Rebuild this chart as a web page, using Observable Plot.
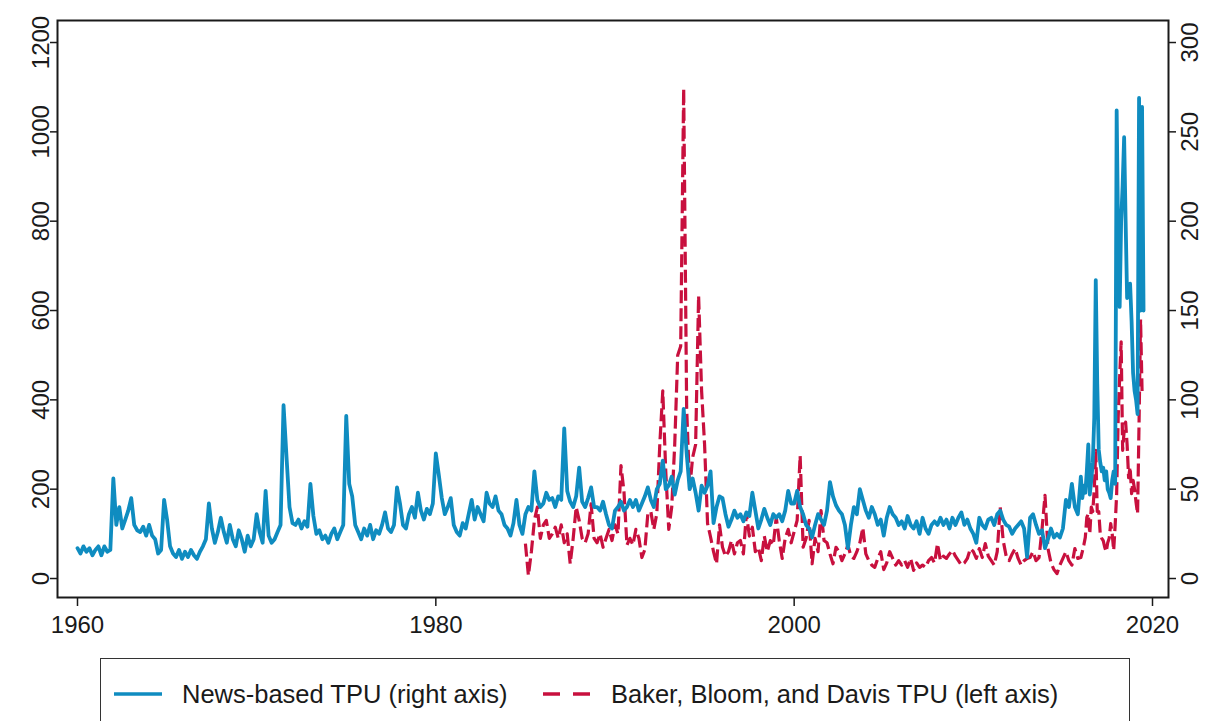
<!DOCTYPE html>
<html>
<head>
<meta charset="utf-8">
<script src="https://cdn.jsdelivr.net/npm/d3@7"></script>
<script src="https://cdn.jsdelivr.net/npm/@observablehq/plot@0.6"></script>
<style>
  html, body { margin: 0; padding: 0; background: #fff; }
  body { width: 1212px; height: 721px; overflow: hidden; position: relative; font-family: "Liberation Sans", Arial, sans-serif; color: #1a1a1a; }
  #chart { position: absolute; left: 0; top: 0; }
  #legend { position: absolute; left: 100px; top: 658px; width: 1030px; height: 80px; box-sizing: border-box; border: 1.5px solid #333; background: #fff; }
  #legend .item { position: absolute; top: 20px; height: 30px; display: flex; align-items: center; font-size: 25.5px; white-space: nowrap; }
  #legend svg { margin-right: 20px; }
</style>
</head>
<body>
<div id="chart"></div>
<div id="legend"></div>
<script>
// ---------------- data ----------------
// News-based TPU (right axis), six readings per year, 1960.0 – 2015.83
const newsTPUBimonthly = [
  17, 14, 18, 15, 17, 13,   // 1960
  16, 18, 13, 18, 15, 16,   // 1961
  56, 30, 40, 28, 33, 38,   // 1962
  45, 30, 27, 26, 29, 24,   // 1963
  30, 24, 22, 14, 16, 44,   // 1964
  33, 18, 14, 12, 16, 11,   // 1965
  15, 12, 16, 13, 11, 15,   // 1966
  18, 22, 42, 28, 20, 26,   // 1967
  34, 26, 20, 30, 22, 18,   // 1968
  27, 22, 15, 24, 18, 22,   // 1969
  36, 26, 20, 49, 24, 20,   // 1970
  22, 26, 30, 97, 68, 40,   // 1971
  31, 30, 33, 28, 32, 29,   // 1972
  53, 35, 25, 27, 22, 24,   // 1973
  20, 25, 28, 22, 26, 30,   // 1974
  91, 53, 46, 30, 26, 22,   // 1975
  28, 24, 30, 22, 27, 25,   // 1976
  30, 37, 28, 26, 30, 51,   // 1977
  42, 30, 28, 36, 40, 34,   // 1978
  48, 38, 33, 39, 36, 42,   // 1979
  70, 58, 45, 36, 40, 45,   // 1980
  30, 26, 24, 31, 28, 36,   // 1981
  44, 33, 40, 36, 32, 48,   // 1982
  42, 40, 46, 38, 36, 30,   // 1983
  28, 24, 31, 44, 30, 25,   // 1984
  36, 40, 38, 60, 44, 40,   // 1985
  42, 48, 44, 45, 40, 46,   // 1986
  44, 84, 49, 43, 40, 46,   // 1987
  62, 43, 40, 45, 51, 40,   // 1988
  40, 38, 43, 36, 30, 28,   // 1989
  38, 40, 43, 38, 40, 44,   // 1990
  40, 44, 38, 42, 46, 51,   // 1991
  44, 40, 50, 53, 66, 50,   // 1992
  52, 57, 47, 55, 60, 95,   // 1993
  70, 50, 56, 48, 38, 52,   // 1994
  48, 52, 60, 31, 40, 46,   // 1995
  45, 36, 29, 33, 38, 34,   // 1996
  36, 32, 37, 35, 48, 38,   // 1997
  28, 33, 39, 34, 30, 36,   // 1998
  34, 36, 32, 38, 49, 42,   // 1999
  42, 49, 40, 36, 30, 28,   // 2000
  23, 30, 36, 33, 30, 38,   // 2001
  54, 46, 41, 38, 36, 30,   // 2002
  17, 30, 40, 36, 50, 44,   // 2003
  38, 34, 40, 36, 30, 33,   // 2004
  24, 34, 40, 36, 34, 30,   // 2005
  32, 28, 35, 30, 28, 32,   // 2006
  25, 34, 28, 25, 30, 32,   // 2007
  30, 34, 30, 33, 28, 34,   // 2008
  30, 34, 37, 30, 33, 28,   // 2009
  25, 20, 34, 30, 28, 33,   // 2010
  34, 30, 36, 38, 33, 30,   // 2011
  29, 25, 28, 30, 32, 28,   // 2012
  12, 34, 36, 30, 25, 27,   // 2013
  17, 22, 28, 23, 25, 23,   // 2014
  28, 44, 40, 53, 40, 36    // 2015
];
// News-based TPU, monthly, 2016.0 – 2019.5
const newsTPUMonthly = [
  57, 45, 52, 48, 60, 75, 47, 55, 65, 90, 167, 109,        // 2016
  72, 65, 60, 62, 55, 60, 50, 48, 45, 55, 60, 53,          // 2017
  262, 190, 152, 200, 220, 247, 200, 157, 160, 165, 144, 115, // 2018
  105, 100, 92, 269, 150, 264, 150                        // 2019
];
// Baker, Bloom and Davis TPU (left axis), six readings per year, 1985.0 – 2015.83
const bbdTPUBimonthly = [
  78, 7, 60, 130, 160, 90,       // 1985
  120, 130, 90, 100, 115, 90,    // 1986
  120, 80, 100, 33, 90, 160,     // 1987
  130, 90, 80, 100, 167, 90,     // 1988
  80, 100, 70, 90, 110, 85,      // 1989
  120, 100, 253, 195, 75, 90,    // 1990
  75, 110, 90, 47, 65, 145,      // 1991
  150, 110, 145, 300, 420, 240,  // 1992
  110, 160, 300, 500, 520, 1097, // 1993
  380, 200, 271, 300, 633, 420,  // 1994
  300, 123, 93, 60, 33, 120,     // 1995
  70, 50, 60, 85, 55, 80,        // 1996
  85, 55, 145, 95, 115, 60,      // 1997
  70, 40, 95, 60, 85, 75,        // 1998
  137, 85, 45, 90, 110, 80,      // 1999
  105, 130, 275, 70, 90, 130,    // 2000
  33, 90, 60, 152, 85, 80,       // 2001
  55, 33, 70, 60, 40, 55,        // 2002
  75, 50, 45, 60, 80, 114,       // 2003
  55, 40, 30, 25, 45, 60,        // 2004
  20, 35, 60, 45, 30, 40,        // 2005
  30, 40, 25, 45, 18, 35,        // 2006
  25, 30, 25, 40, 47, 35,        // 2007
  78, 40, 50, 45, 55, 63,        // 2008
  50, 40, 30, 35, 45, 67,        // 2009
  60, 45, 67, 47, 78, 50,        // 2010
  40, 30, 60, 160, 85, 50,       // 2011
  40, 55, 67, 45, 30, 40,        // 2012
  45, 47, 60, 40, 47, 110,       // 2013
  186, 67, 35, 20, 11, 30,       // 2014
  45, 60, 40, 30, 67, 45         // 2015
];
// Baker, Bloom and Davis TPU, monthly, 2016.0 – 2019.42
const bbdTPUMonthly = [
  47, 60, 75, 92, 137, 145, 100, 160, 150, 200, 287, 150,   // 2016
  150, 100, 90, 85, 70, 60, 80, 90, 123, 100, 63, 120,      // 2017
  190, 360, 450, 530, 287, 330, 350, 300, 226, 250, 190, 220, // 2018
  200, 170, 145, 350, 580, 420                               // 2019
];

const xTicks = [1960, 1980, 2000, 2020];
const leftTicks = [0, 200, 400, 600, 800, 1000, 1200];
const rightTicks = [0, 50, 100, 150, 200, 250, 300];
const seriesNames = ["News-based TPU (right axis)", "Baker, Bloom, and Davis TPU (left axis)"];
const seriesColors = ["#0f8cc0", "#c8103e"];

// ---------------- build tables ----------------
const news = [
  ...newsTPUBimonthly.map((v, i) => ({date: 1960 + i / 6, value: v})),
  ...newsTPUMonthly.map((v, i) => ({date: 2016 + i / 12, value: v}))
];
const bbd = [
  ...bbdTPUBimonthly.map((v, i) => ({date: 1985 + i / 6, value: v})),
  ...bbdTPUMonthly.map((v, i) => ({date: 2016 + i / 12, value: v}))
];
const ratio = leftTicks[leftTicks.length - 1] / rightTicks[rightTicks.length - 1]; // 4

const chart = Plot.plot({
  width: 1212,
  height: 650,
  marginTop: 20,
  marginLeft: 57,
  marginRight: 44,
  marginBottom: 53,
  style: {fontFamily: "'Liberation Sans', Arial, sans-serif", fontSize: "24px", color: "#1a1a1a", background: "#fff", overflow: "visible"},
  x: {domain: [1958.884, 2020.893]},
  y: {domain: [-42.5, 1249.3]},
  marks: [
    Plot.lineY(bbd, {x: "date", y: "value", stroke: seriesColors[1], strokeWidth: 3.2, strokeDasharray: "13,5", strokeLinejoin: "round", strokeLinecap: "butt"}),
    Plot.lineY(news, {x: "date", y: d => d.value * ratio, stroke: seriesColors[0], strokeWidth: 3.8, strokeLinejoin: "round"}),
    Plot.frame({stroke: "#1a1a1a", strokeWidth: 2}),
    Plot.axisX({ticks: xTicks, tickFormat: d => String(d), tickSize: 9, tickPadding: 9, label: null, strokeWidth: 1.5}),
    Plot.axisY({anchor: "left", ticks: leftTicks, tickFormat: d => String(d), tickSize: 7, tickPadding: 2, tickRotate: -90, label: null, strokeWidth: 1.5}),
    Plot.axisY({anchor: "right", ticks: rightTicks.map(d => d * ratio), tickFormat: d => String(d / ratio), tickSize: 7, tickPadding: 5, tickRotate: -90, lineAnchor: "top", label: null, strokeWidth: 1.5})
  ]
});
document.getElementById("chart").appendChild(chart);

// ---------------- legend ----------------
const legend = document.getElementById("legend");
const legendX = [13, 442];
seriesNames.forEach((name, i) => {
  const item = document.createElement("div");
  item.className = "item";
  item.style.left = legendX[i] + "px";
  const sw = document.createElementNS("http://www.w3.org/2000/svg", "svg");
  sw.setAttribute("width", "48");
  sw.setAttribute("height", "10");
  const ln = document.createElementNS("http://www.w3.org/2000/svg", "line");
  ln.setAttribute("x1", "0"); ln.setAttribute("x2", "48");
  ln.setAttribute("y1", "5"); ln.setAttribute("y2", "5");
  ln.setAttribute("stroke", seriesColors[i]);
  ln.setAttribute("stroke-width", "3.5");
  if (i === 1) ln.setAttribute("stroke-dasharray", "17,13");
  sw.appendChild(ln);
  item.appendChild(sw);
  const t = document.createElement("span");
  t.textContent = name;
  item.appendChild(t);
  legend.appendChild(item);
});
</script>
</body>
</html>
